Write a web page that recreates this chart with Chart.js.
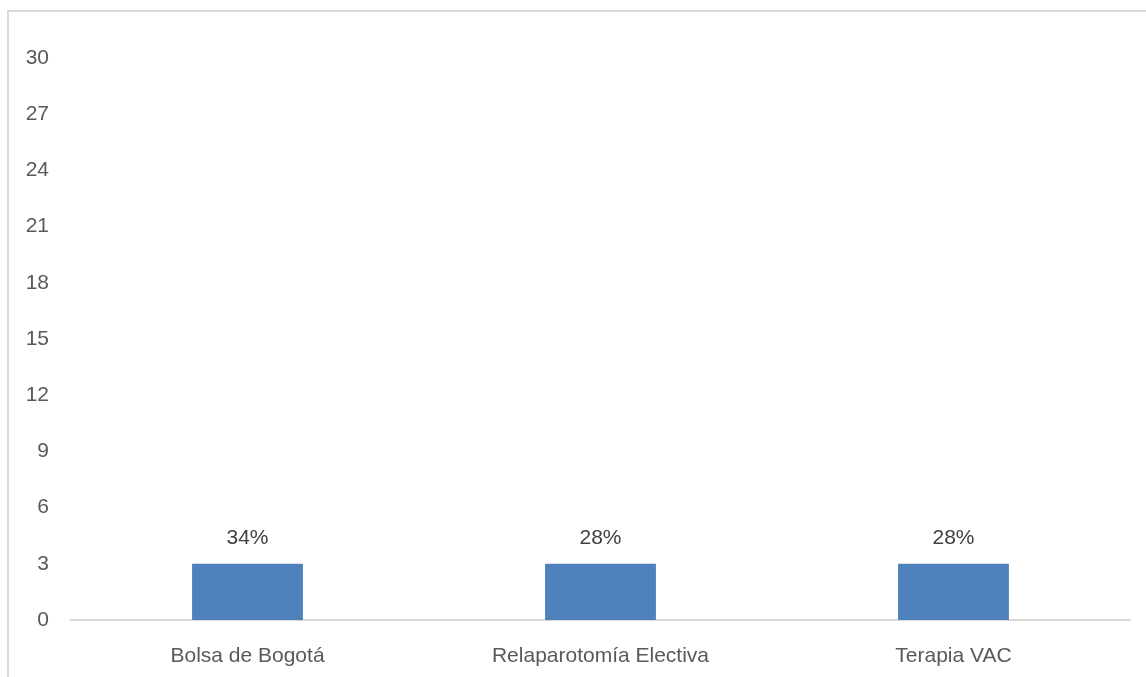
<!DOCTYPE html>
<html>
<head>
<meta charset="utf-8">
<script src="https://cdn.jsdelivr.net/npm/chart.js@4"></script>
<style>
  html, body { margin: 0; padding: 0; background: #fff; }
  #wrap { width: 1146px; height: 677px; position: relative; }
</style>
</head>
<body>
<div id="wrap"><canvas id="chart" width="1146" height="677"></canvas></div>
<script>
var categories = ["Bolsa de Bogotá", "Relaparotomía Electiva", "Terapia VAC"];
var values = [3, 3, 3];
var valueLabels = ["34%", "28%", "28%"];
var yTicks = [0, 3, 6, 9, 12, 15, 18, 21, 24, 27, 30];

var fontFamily = "'Liberation Sans', Arial, sans-serif";

// light frame on the top and left edges, like the cropped chart box
var framePlugin = {
    id: 'frame',
    beforeDraw: function(chart) {
        var c = chart.ctx;
        c.save();
        c.fillStyle = '#fff';
        c.fillRect(0, 0, chart.width, chart.height);
        c.strokeStyle = '#D9D9D9';
        c.lineWidth = 2;
        c.beginPath();
        c.moveTo(8, chart.height);
        c.lineTo(8, 11);
        c.lineTo(chart.width, 11);
        c.stroke();
        c.restore();
    }
};

// percentage labels above each bar
var valueLabelPlugin = {
    id: 'valueLabels',
    afterDatasetsDraw: function(chart) {
        var c = chart.ctx;
        var meta = chart.getDatasetMeta(0);
        c.save();
        c.font = '21px ' + fontFamily;
        c.fillStyle = '#404040';
        c.textAlign = 'center';
        c.textBaseline = 'middle';
        meta.data.forEach(function(bar, i) {
            c.fillText(valueLabels[i], bar.x, bar.y - 26);
        });
        c.restore();
    }
};

var ctx = document.getElementById('chart').getContext('2d');
var myChart = new Chart(ctx, {
    type: 'bar',
    data: {
        labels: categories,
        datasets: [{
            data: values,
            backgroundColor: '#4F81BD',
            borderWidth: 0,
            categoryPercentage: 1,
            barPercentage: 0.314
        }]
    },
    options: {
        responsive: false,
        animation: false,
        layout: { padding: { top: 58, right: 16, bottom: 0, left: 0 } },
        plugins: {
            legend: { display: false },
            tooltip: { enabled: false }
        },
        scales: {
            x: {
                grid: { display: false, drawTicks: false },
                border: { display: true, color: '#D9D9D9', width: 2 },
                ticks: {
                    color: '#595959',
                    padding: 24,
                    font: { size: 21, family: fontFamily }
                },
                afterFit: function(s) { s.height = 57; }
            },
            y: {
                min: 0,
                max: 30,
                grid: { display: false, drawTicks: false },
                border: { display: false },
                afterBuildTicks: function(s) {
                    s.ticks = yTicks.map(function(v) { return { value: v }; });
                },
                ticks: {
                    color: '#595959',
                    padding: 22,
                    font: { size: 21, family: fontFamily }
                },
                afterFit: function(s) { s.width = 71; }
            }
        }
    },
    plugins: [framePlugin, valueLabelPlugin]
});
</script>
</body>
</html>
